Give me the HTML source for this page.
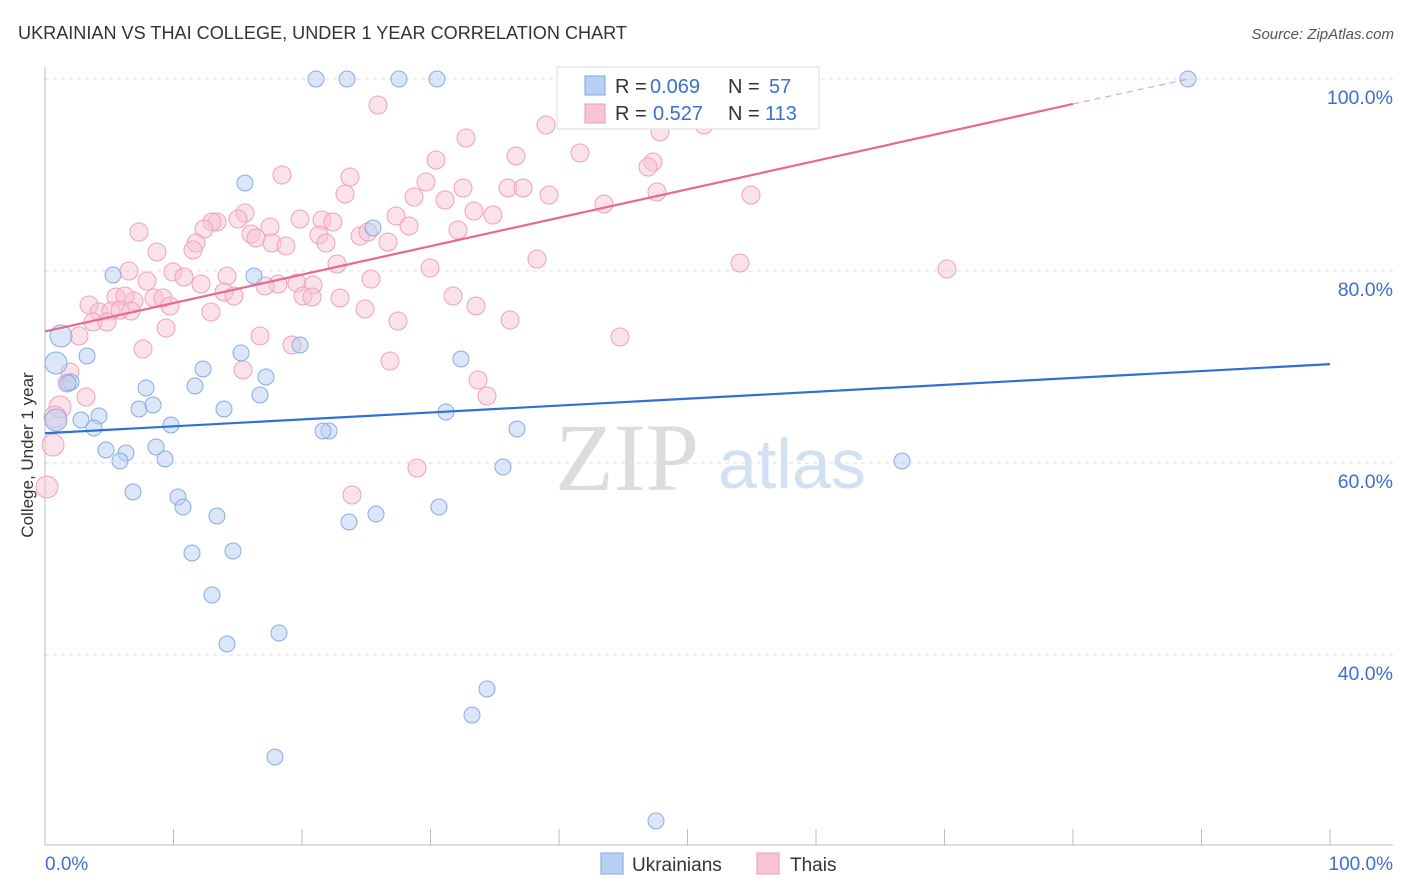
<!DOCTYPE html>
<html><head><meta charset="utf-8">
<style>
body{margin:0;background:#fff;font-family:"Liberation Sans",sans-serif;}
#wrap{position:relative;width:1406px;height:892px;overflow:hidden}
</style></head>
<body>
<div id="wrap">
<svg id="svg" width="1406" height="892" xmlns="http://www.w3.org/2000/svg">
<text x="18" y="39" font-size="18.1" fill="#333">UKRAINIAN VS THAI COLLEGE, UNDER 1 YEAR CORRELATION CHART</text>
<text x="1394" y="39" font-size="15" fill="#555" text-anchor="end" font-style="italic">Source: ZipAtlas.com</text>
<text x="33" y="455" font-size="17" fill="#333" text-anchor="middle" transform="rotate(-90 33 455)">College, Under 1 year</text>
<text x="555" y="490" font-size="96" fill="#dcdcdc" font-family="Liberation Serif,serif">ZIP</text>
<text x="718" y="488" font-size="70" fill="#d2e0f3">atlas</text>
<g id="grid"></g><g id="pts"></g><g id="lines"></g>
<g>
<rect x="557" y="67" width="262" height="62" fill="#fff" stroke="#ddd"/>
<rect x="585" y="76" width="20" height="19" fill="#b8d0f2" stroke="#7fa7e0"/>
<rect x="585" y="104" width="20" height="19" fill="#f8c3d3" stroke="#ec9ab4"/>
<text x="615" y="93" font-size="20" fill="#333">R =</text>
<text x="650" y="93" font-size="20" fill="#3b6fd1">0.069</text>
<text x="728" y="93" font-size="20" fill="#333">N =</text>
<text x="769" y="93" font-size="20" fill="#3b6fd1">57</text>
<text x="615" y="120" font-size="20" fill="#333">R =</text>
<text x="653" y="120" font-size="20" fill="#3b6fd1">0.527</text>
<text x="728" y="120" font-size="20" fill="#333">N =</text>
<text x="765" y="120" font-size="20" fill="#3b6fd1">113</text>
</g>
<g>
<rect x="601" y="853" width="22" height="21" fill="#b8d0f2" stroke="#7fa7e0"/>
<text x="632" y="871" font-size="19" fill="#333">Ukrainians</text>
<rect x="757" y="853" width="22" height="21" fill="#f8c3d3" stroke="#ec9ab4"/>
<text x="790" y="871" font-size="19" fill="#333">Thais</text>
</g>
<text x="45" y="870" font-size="19" fill="#3b6fd1">0.0%</text>
<text x="1393" y="870" font-size="19" fill="#3b6fd1" text-anchor="end">100.0%</text>
</svg>
</div>
<script>
const yTicks=[100,80,60,40];
const yTickLabels=["100.0%","80.0%","60.0%","40.0%"];
const xTicks=[0,10,20,30,40,50,60,70,80,90,100];
const bluePx=[[316,79],[347,79],[399,79],[437,79],[1188,79],[245,183],[373,228],[113,275],[254,276],[61,336],[56,363],[87,356],[241,353],[300,345],[461,359],[203,369],[266,377],[71,382],[146,388],[195,386],[260,395],[139,409],[153,405],[224,409],[446,412],[81,420],[99,416],[94,428],[171,425],[56,420],[329,431],[323,431],[517,429],[106,450],[156,447],[126,453],[120,461],[165,459],[503,467],[902,461],[133,492],[178,497],[183,507],[217,516],[376,514],[349,522],[439,507],[192,553],[233,551],[212,595],[279,633],[227,644],[487,689],[472,715],[275,757],[656,821],[68,383]];
const pinkPx=[[378,105],[466,138],[546,125],[704,125],[660,132],[436,160],[516,156],[580,153],[653,162],[648,167],[282,175],[350,177],[426,182],[463,188],[508,188],[523,188],[549,195],[345,194],[414,197],[445,200],[604,204],[657,192],[751,195],[245,213],[217,222],[212,222],[238,219],[300,219],[322,220],[333,222],[396,216],[474,211],[493,215],[139,232],[204,229],[251,234],[270,227],[319,235],[360,236],[368,232],[409,226],[458,230],[196,243],[256,238],[272,243],[286,246],[326,243],[388,242],[157,252],[193,250],[337,264],[430,268],[537,259],[740,263],[947,269],[129,271],[173,272],[184,277],[147,281],[227,276],[371,279],[278,284],[297,283],[201,284],[313,285],[89,305],[116,297],[134,301],[125,296],[154,298],[163,298],[170,306],[224,292],[234,296],[265,286],[303,296],[312,297],[340,298],[453,296],[99,312],[111,311],[120,310],[131,311],[211,312],[365,309],[476,306],[93,322],[107,322],[166,328],[398,321],[510,320],[79,336],[260,336],[620,337],[292,345],[143,349],[243,370],[390,361],[67,383],[70,372],[86,397],[478,380],[487,396],[60,407],[55,417],[53,445],[47,487],[417,468],[352,495],[688,80]];
const blueX=bluePx.map(p=>(p[0]-45)/12.85), blueY=bluePx.map(p=>100-(p[1]-79)/9.6);
const pinkX=pinkPx.map(p=>(p[0]-45)/12.85), pinkY=pinkPx.map(p=>100-(p[1]-79)/9.6);
const blueLine=[[0,63.1],[100,70.3]];
const pinkLine=[[0,73.7],[80,97.4],[89,100]];
const X=v=>45+v*12.85, Y=v=>79+(100-v)*9.6;
const NS="http://www.w3.org/2000/svg";
function mk(t,a,p){const e=document.createElementNS(NS,t);for(const k in a)e.setAttribute(k,a[k]);p.appendChild(e);return e;}
const grid=document.getElementById('grid');
yTicks.forEach((t,i)=>{
 const l=mk('line',{x1:45,x2:1393,y1:Y(t),y2:Y(t),stroke:'#ddd','stroke-dasharray':'4,4'},grid);
 
 
 const tx=mk('text',{x:1393,y:Y(t)+25,'font-size':19.5,fill:'#3b6fd1','text-anchor':'end'},grid);
 tx.textContent=yTickLabels[i];
 
 
});
const ax=mk('line',{x1:45,x2:1393,y1:845,y2:845,stroke:'#bbb'},grid);


const ay=mk('line',{x1:45,x2:45,y1:67,y2:845,stroke:'#bbb'},grid);


xTicks.forEach(t=>{const l=mk('line',{x1:X(t),x2:X(t),y1:829,y2:845,stroke:'#bbb'},grid);
 
 });
const pts=document.getElementById('pts');
pinkX.forEach((x,i)=>{const r=x<1.5?11:9;
 const c=mk('circle',{cx:X(x),cy:Y(pinkY[i]),r:r,fill:'#f8c3d3','fill-opacity':0.5,stroke:'#eea3bc','stroke-width':1},pts);
 
 });
blueX.forEach((x,i)=>{const r=x<1.5?11:8;
 const c=mk('circle',{cx:X(x),cy:Y(blueY[i]),r:r,fill:'#b8d0f2','fill-opacity':0.5,stroke:'#86ade3','stroke-width':1},pts);
 
 });
const lines=document.getElementById('lines');
const bl=mk('line',{x1:X(blueLine[0][0]),y1:Y(blueLine[0][1]),x2:X(blueLine[1][0]),y2:Y(blueLine[1][1]),stroke:'#2f6fd6','stroke-width':2.2},lines);


const pl=mk('line',{x1:X(pinkLine[0][0]),y1:Y(pinkLine[0][1]),x2:X(pinkLine[1][0]),y2:Y(pinkLine[1][1]),stroke:'#e86894','stroke-width':2.2},lines);


const pd=mk('line',{x1:X(pinkLine[1][0]),y1:Y(pinkLine[1][1]),x2:X(pinkLine[2][0]),y2:Y(pinkLine[2][1]),stroke:'#f0a0bb','stroke-width':1.2,'stroke-dasharray':'6,5'},lines);


</script>
</body></html>
